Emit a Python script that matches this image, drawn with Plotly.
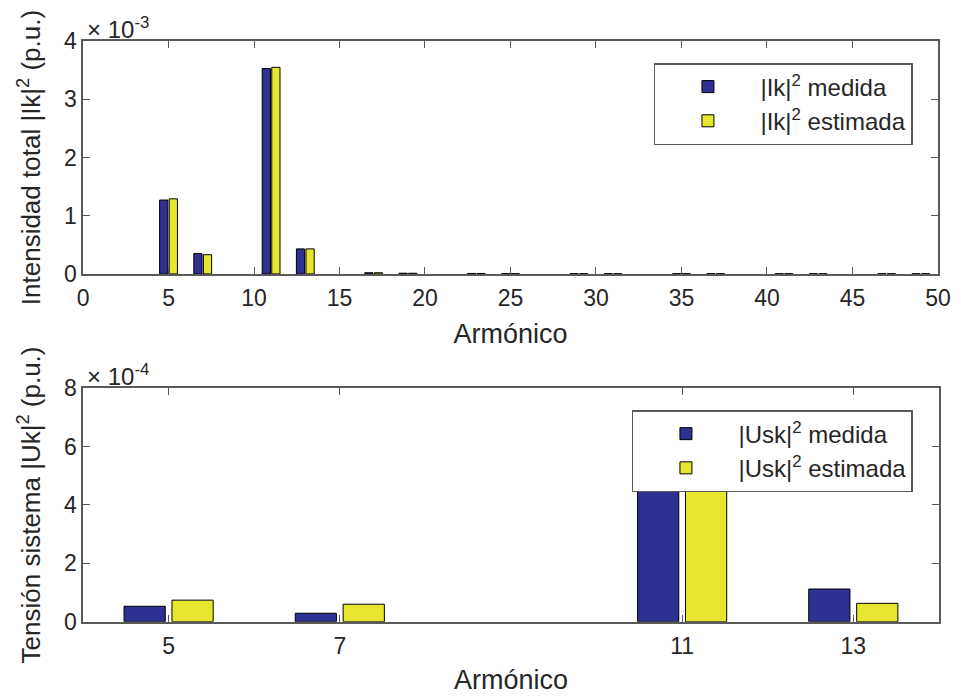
import plotly.graph_objects as go

# Top panel: total current |Ik|^2 by harmonic (values in p.u.)
harm_top = [5, 7, 11, 13, 17, 19, 23, 25, 29, 31, 35, 37, 41, 43, 47, 49]
ik_medida = [1.27e-3, 0.35e-3, 3.53e-3, 0.43e-3, 0.02e-3, 0.012e-3, 0.008e-3, 0.004e-3,
             0.004e-3, 0.004e-3, 0.003e-3, 0.003e-3, 0.003e-3, 0.002e-3, 0.002e-3, 0.002e-3]
ik_estimada = [1.29e-3, 0.33e-3, 3.55e-3, 0.43e-3, 0.02e-3, 0.012e-3, 0.008e-3, 0.004e-3,
               0.004e-3, 0.004e-3, 0.003e-3, 0.003e-3, 0.003e-3, 0.002e-3, 0.002e-3, 0.002e-3]

# Bottom panel: system voltage |Usk|^2 by harmonic
harm_bot = [5, 7, 11, 13]
us_medida = [0.53e-4, 0.29e-4, 6.9e-4, 1.12e-4]
us_estimada = [0.74e-4, 0.60e-4, 7.0e-4, 0.63e-4]

top_xticks = [0, 5, 10, 15, 20, 25, 30, 35, 40, 45, 50]
top_yticks = [0, 1e-3, 2e-3, 3e-3, 4e-3]
top_ytext = ["0", "1", "2", "3", "4"]
bot_yticks = [0, 2e-4, 4e-4, 6e-4, 8e-4]
bot_ytext = ["0", "2", "4", "6", "8"]

BLUE = "#2E3192"
YELLOW = "#E6E62E"
TXT = "#262626"
AX = "#5a5a5a"
FONT = "Liberation Sans, Arial, sans-serif"
TICK = 23
XTITLE = 27
YTITLE = 26
LEG = 24

fig = go.Figure()
fig.add_trace(go.Bar(x=harm_top, y=ik_medida, name="|Ik|<sup>2</sup> medida",
                     marker=dict(color=BLUE, line=dict(color="black", width=1)),
                     xaxis="x", yaxis="y", legend="legend", legendgroup="a"))
fig.add_trace(go.Bar(x=harm_top, y=ik_estimada, name="|Ik|<sup>2</sup> estimada",
                     marker=dict(color=YELLOW, line=dict(color="black", width=1)),
                     xaxis="x", yaxis="y", legend="legend", legendgroup="b"))
fig.add_trace(go.Bar(x=harm_bot, y=us_medida, name="|Usk|<sup>2</sup> medida",
                     marker=dict(color=BLUE, line=dict(color="black", width=1)),
                     xaxis="x2", yaxis="y2", legend="legend2", legendgroup="c"))
fig.add_trace(go.Bar(x=harm_bot, y=us_estimada, name="|Usk|<sup>2</sup> estimada",
                     marker=dict(color=YELLOW, line=dict(color="black", width=1)),
                     xaxis="x2", yaxis="y2", legend="legend2", legendgroup="d"))

axcommon = dict(showline=True, linecolor=AX, linewidth=1.5, mirror="ticks",
                ticks="inside", ticklen=7, tickcolor=AX, showgrid=False, zeroline=False,
                automargin=False,
                tickfont=dict(size=TICK, color=TXT, family=FONT))

legcommon = dict(xanchor="right", yanchor="top", bgcolor="white", bordercolor=AX,
                 borderwidth=1.5, font=dict(size=LEG, color=TXT, family=FONT),
                 tracegroupgap=0, itemwidth=95)

fig.update_layout(
    width=961, height=697,
    margin=dict(l=0, r=0, t=0, b=0),
    paper_bgcolor="white", plot_bgcolor="white",
    font=dict(family=FONT, color=TXT, size=TICK),
    barmode="group", bargap=0.44, bargroupgap=0.14,
    showlegend=True,
    xaxis=dict(domain=[0.0864, 0.976], anchor="y", range=[0, 50],
               tickvals=top_xticks, ticktext=[str(v) for v in top_xticks],
               ticklabelstandoff=3,
               title=dict(text="Armónico", font=dict(size=XTITLE, color=TXT), standoff=14),
               **axcommon),
    yaxis=dict(domain=[0.607, 0.941], anchor="x", range=[0, 4e-3],
               tickvals=top_yticks, ticktext=top_ytext,
               title=dict(text="Intensidad total |Ik|<sup>2</sup> (p.u.)",
                          font=dict(size=YTITLE, color=TXT), standoff=16),
               **axcommon),
    xaxis2=dict(domain=[0.0864, 0.977], anchor="y2", range=[4, 14],
                tickvals=harm_bot, ticktext=[str(v) for v in harm_bot],
                ticklabelstandoff=3,
                title=dict(text="Armónico", font=dict(size=XTITLE, color=TXT), standoff=12),
                **axcommon),
    yaxis2=dict(domain=[0.108, 0.443], anchor="x2", range=[0, 8e-4],
                tickvals=bot_yticks, ticktext=bot_ytext,
                title=dict(text="Tensión sistema |Uk|<sup>2</sup> (p.u.)",
                           font=dict(size=YTITLE, color=TXT), standoff=16),
                **axcommon),
    legend=dict(x=0.950, y=0.9096, **legcommon),
    legend2=dict(x=0.950, y=0.4117, **legcommon),
    annotations=[
        dict(text="× 10<sup>-3</sup>", xref="paper", yref="paper", x=0.088, y=0.936,
             xanchor="left", yanchor="bottom", showarrow=False,
             font=dict(size=24, color=TXT, family=FONT)),
        dict(text="× 10<sup>-4</sup>", xref="paper", yref="paper", x=0.088, y=0.438,
             xanchor="left", yanchor="bottom", showarrow=False,
             font=dict(size=24, color=TXT, family=FONT)),
    ],
)

fig.write_html("out.html", config={"displayModeBar": False},
               post_script="document.body.style.margin='0';")
